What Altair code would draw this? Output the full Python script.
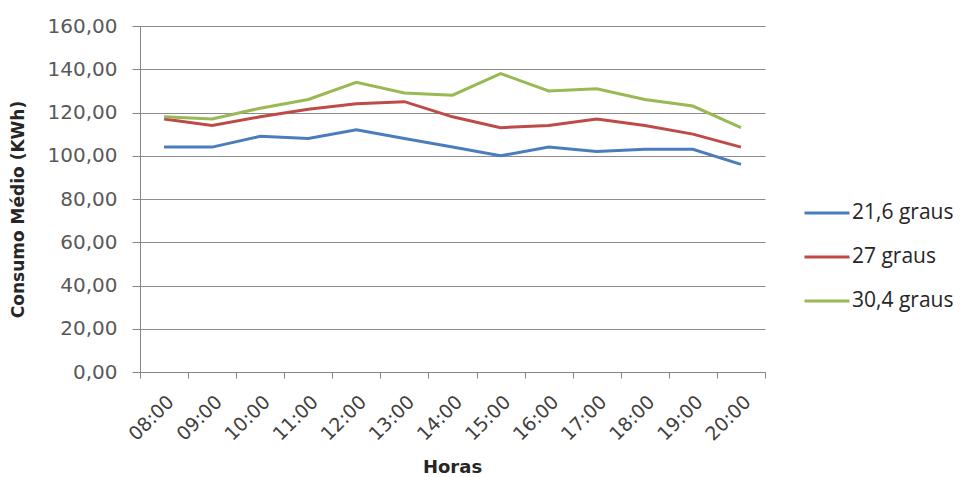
import altair as alt
import pandas as pd

horas = ["08:00", "09:00", "10:00", "11:00", "12:00", "13:00", "14:00",
         "15:00", "16:00", "17:00", "18:00", "19:00", "20:00"]
consumo_21_6 = [104, 104, 109, 108, 112, 108, 104, 100, 104, 102, 103, 103, 96]
consumo_27 = [117, 114, 118, 121.5, 124, 125, 118, 113, 114, 117, 114, 110, 104]
consumo_30_4 = [118, 117, 122, 126, 134, 129, 128, 138, 130, 131, 126, 123, 113]

series_names = ["21,6 graus", "27 graus", "30,4  graus"]
series_colors = ["#4a7ebb", "#be4b48", "#98b954"]

rows = []
for name, values in zip(series_names, [consumo_21_6, consumo_27, consumo_30_4]):
    for h, v in zip(horas, values):
        rows.append({"Hora": h, "Consumo": v, "Serie": name})
df = pd.DataFrame(rows)

axis_font = "DejaVu Sans"

chart = alt.Chart(df).mark_line(strokeWidth=3).encode(
    x=alt.X(
        "Hora:N",
        sort=horas,
        bandPosition=0.5,
        scale=alt.Scale(type="band", paddingInner=0, paddingOuter=0),
        axis=alt.Axis(
            title="Horas",
            titleFont=axis_font,
            titleFontSize=18,
            titleFontWeight="bold",
            titleColor="#262626",
            titleX=312,
            titleY=95,
            titleBaseline="middle",
            labelAngle=-45,
            labelAlign="right",
            labelBaseline="top",
            labelFont=axis_font,
            labelFontSize=19,
            labelColor="#404040",
            labelPadding=14,
            tickBand="extent",
            tickSize=6,
            tickColor="#868686",
            domainColor="#868686",
            grid=False,
        ),
    ),
    y=alt.Y(
        "Consumo:Q",
        scale=alt.Scale(domain=[0, 160], nice=False),
        axis=alt.Axis(
            title="Consumo Médio  (KWh)",
            titleFont=axis_font,
            titleFontSize=17,
            titleFontWeight="bold",
            titleColor="#262626",
            titleAngle=270,
            titleX=-122,
            titleY=183,
            titleAlign="center",
            titleBaseline="middle",
            values=[0, 20, 40, 60, 80, 100, 120, 140, 160],
            labelExpr="replace(format(datum.value, '.2f'), '.', ',')",
            labelFont=axis_font,
            labelFontSize=20,
            labelColor="#595959",
            labelPadding=15,
            tickSize=8,
            tickColor="#868686",
            domainColor="#868686",
            gridColor="#8c8c8c",
            gridWidth=1,
        ),
    ),
    color=alt.Color(
        "Serie:N",
        sort=series_names,
        scale=alt.Scale(domain=series_names, range=series_colors),
        legend=alt.Legend(
            title=None,
            orient="none",
            legendX=663,
            legendY=163,
            symbolType="stroke",
            symbolSize=2025,
            symbolStrokeWidth=3,
            labelFont="Open Sans",
            labelFontSize=21,
            labelColor="#262626",
            labelOffset=1,
            rowPadding=10,
        ),
    ),
).properties(
    width=625,
    height=346,
    autosize=alt.AutoSizeParams(type="none"),
    padding={"left": 140, "top": 26, "right": 212, "bottom": 105},
).configure(background="white").configure_view(strokeWidth=0)

chart.save("out.html", embed_options={"renderer": "svg", "actions": False})
